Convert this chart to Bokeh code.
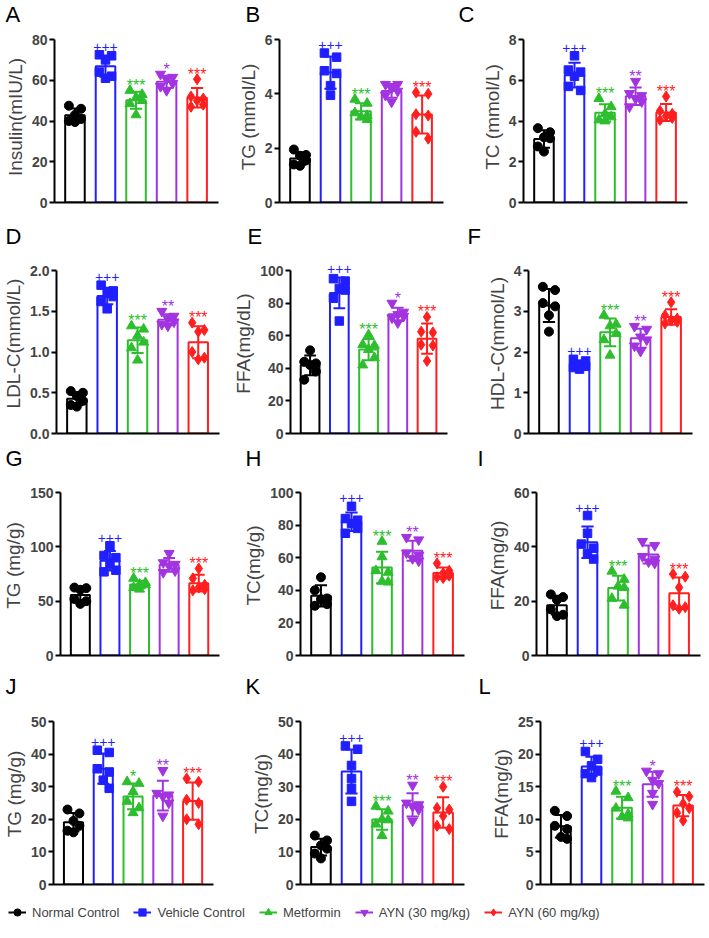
import numpy as np
from bokeh.plotting import figure
from bokeh.layouts import column, row
from bokeh.models import (Range1d, FixedTicker, NumeralTickFormatter, Label,
                          Legend, LegendItem, ColumnDataSource)
from bokeh.embed import file_html
from bokeh.resources import INLINE
from bokeh.core.properties import value

# ---------------------------------------------------------------- data
GROUPS = ["Normal Control", "Vehicle Control", "Metformin",
          "AYN (30 mg/kg)", "AYN (60 mg/kg)"]

# serum
insulin = [[47.5, 46.0, 43.0, 41.0, 39.5, 40.0],
           [72.5, 72.0, 70.0, 64.0, 62.0, 61.0],
           [55.0, 53.0, 51.5, 50.0, 48.5, 43.0],
           [63.0, 61.5, 60.5, 58.5, 57.0, 55.0],
           [60.5, 52.0, 51.0, 50.0, 48.0, 47.0]]
insulin_sig = ["", "+++", "***", "*", "***"]

serum_tg = [[1.95, 1.75, 1.72, 1.55, 1.40, 1.35],
            [5.50, 5.35, 4.85, 4.75, 4.30, 3.95],
            [3.80, 3.65, 3.30, 3.20, 3.15, 3.05],
            [4.35, 4.35, 4.20, 4.10, 3.95, 3.70],
            [4.05, 4.00, 3.25, 3.20, 2.60, 2.35]]
serum_tg_sig = ["", "+++", "***", "", "***"]

serum_tc = [[3.65, 3.45, 3.20, 3.15, 2.75, 2.50],
            [7.20, 6.50, 6.40, 6.20, 5.70, 5.50],
            [5.10, 4.70, 4.35, 4.20, 4.05, 4.00],
            [5.95, 5.35, 5.25, 5.10, 4.95, 4.70],
            [5.20, 4.50, 4.35, 4.25, 4.15, 4.05]]
serum_tc_sig = ["", "+++", "***", "**", "***"]

ldl_c = [[0.52, 0.50, 0.46, 0.40, 0.35, 0.33],
         [1.82, 1.75, 1.72, 1.68, 1.62, 1.53],
         [1.32, 1.28, 1.20, 1.12, 1.05, 0.90],
         [1.50, 1.44, 1.41, 1.37, 1.34, 1.32],
         [1.36, 1.27, 1.25, 1.00, 0.93, 0.91]]
ldl_c_sig = ["", "+++", "***", "**", "***"]

serum_ffa = [[51.0, 44.0, 43.0, 42.0, 38.0, 33.0],
             [95.0, 93.5, 89.0, 88.0, 83.0, 69.0],
             [60.5, 54.5, 54.0, 51.5, 46.5, 42.0],
             [80.0, 74.5, 73.0, 72.0, 71.0, 68.0],
             [71.5, 62.5, 62.0, 54.5, 54.0, 44.5]]
serum_ffa_sig = ["", "+++", "***", "*", "***"]

hdl_c = [[3.60, 3.52, 3.20, 3.12, 2.90, 2.50],
         [1.82, 1.78, 1.70, 1.65, 1.62, 1.58],
         [2.90, 2.68, 2.64, 2.45, 2.30, 1.92],
         [2.63, 2.56, 2.37, 2.30, 2.15, 2.02],
         [3.22, 2.90, 2.82, 2.78, 2.74, 2.70]]
hdl_c_sig = ["", "+++", "***", "**", "***"]

# liver
liver_tg = [[62.5, 62.0, 60.5, 52.0, 50.0, 47.5],
            [101.0, 92.0, 90.0, 85.0, 78.5, 77.0],
            [71.0, 67.0, 65.5, 65.0, 62.5, 61.0],
            [94.0, 85.5, 84.0, 82.5, 78.0, 76.5],
            [80.0, 71.0, 65.0, 62.5, 61.0, 60.0]]
liver_tg_sig = ["", "+++", "***", "", "***"]

liver_tc = [[48.0, 40.0, 35.0, 34.5, 31.5, 30.5],
            [91.5, 84.0, 83.0, 81.0, 78.0, 75.0],
            [70.0, 60.5, 52.0, 51.0, 45.5, 45.0],
            [72.5, 71.0, 63.0, 61.5, 59.5, 58.0],
            [56.5, 52.0, 50.5, 49.0, 48.0, 47.5]]
liver_tc_sig = ["", "+++", "***", "**", "***"]

liver_ffa = [[22.5, 21.5, 20.5, 17.0, 15.0, 14.5],
             [51.5, 45.0, 41.0, 39.5, 37.5, 35.5],
             [31.0, 28.0, 25.5, 25.0, 21.0, 18.5],
             [42.0, 40.5, 36.5, 35.5, 34.5, 34.0],
             [30.0, 29.0, 25.0, 18.5, 17.8, 17.2]]
liver_ffa_sig = ["", "+++", "***", "", "***"]

# feces
fecal_tg = [[23.0, 21.8, 19.5, 18.0, 16.5, 16.0],
            [41.2, 40.5, 35.5, 34.5, 32.0, 29.5],
            [31.5, 31.0, 28.5, 25.5, 23.5, 22.0],
            [35.0, 28.0, 27.5, 27.0, 25.0, 21.0],
            [32.5, 31.5, 26.0, 25.0, 20.0, 18.5]]
fecal_tg_sig = ["", "+++", "*", "**", "***"]

fecal_tc = [[15.0, 13.5, 12.0, 11.0, 9.5, 8.0],
            [42.5, 41.5, 36.5, 32.5, 29.5, 25.5],
            [24.0, 22.5, 20.0, 19.8, 18.5, 15.0],
            [30.5, 25.0, 24.5, 24.0, 23.0, 19.5],
            [30.0, 23.5, 23.0, 21.0, 18.0, 17.0]]
fecal_tc_sig = ["", "+++", "***", "**", "***"]

fecal_ffa = [[11.3, 10.5, 9.0, 8.5, 7.3, 7.0],
             [20.4, 19.2, 18.2, 17.4, 17.0, 16.4],
             [14.3, 13.3, 11.7, 10.8, 10.4, 10.2],
             [17.4, 17.0, 16.0, 15.5, 14.0, 12.3],
             [14.2, 13.5, 12.4, 11.7, 11.0, 9.8]]
fecal_ffa_sig = ["", "+++", "***", "*", "***"]

# letter, values, marks, axis max, ticks, tick format, axis title
PANELS = [
    ("A", insulin, insulin_sig, 80, [0, 20, 40, 60, 80], "0", "Insulin(mIU/L)"),
    ("B", serum_tg, serum_tg_sig, 6, [0, 2, 4, 6], "0", "TG (mmol/L)"),
    ("C", serum_tc, serum_tc_sig, 8, [0, 2, 4, 6, 8], "0", "TC (mmol/L)"),
    ("D", ldl_c, ldl_c_sig, 2.0, [0, 0.5, 1.0, 1.5, 2.0], "0.0", "LDL-C(mmol/L)"),
    ("E", serum_ffa, serum_ffa_sig, 100, [0, 20, 40, 60, 80, 100], "0", "FFA(mg/dL)"),
    ("F", hdl_c, hdl_c_sig, 4, [0, 1, 2, 3, 4], "0", "HDL-C(mmol/L)"),
    ("G", liver_tg, liver_tg_sig, 150, [0, 50, 100, 150], "0", "TG (mg/g)"),
    ("H", liver_tc, liver_tc_sig, 100, [0, 20, 40, 60, 80, 100], "0", "TC(mg/g)"),
    ("I", liver_ffa, liver_ffa_sig, 60, [0, 20, 40, 60], "0", "FFA(mg/g)"),
    ("J", fecal_tg, fecal_tg_sig, 50, [0, 10, 20, 30, 40, 50], "0", "TG (mg/g)"),
    ("K", fecal_tc, fecal_tc_sig, 50, [0, 10, 20, 30, 40, 50], "0", "TC(mg/g)"),
    ("L", fecal_ffa, fecal_ffa_sig, 25, [0, 5, 10, 15, 20, 25], "0", "FFA(mg/g)"),
]

# ---------------------------------------------------------------- style
COLORS = ["#000000", "#1f1fff", "#2dbe2d", "#a134e0", "#ff1f1f"]
MARKERS = ["circle", "square", "triangle", "inverted_triangle", "diamond"]
MSIZE = [9, 8.5, 10, 10, 11]
FONT = "Liberation Sans"
FRAME_W, AXIS_H = 164, 163
PAGE_W = 709
# sideways slots used when neighbouring points would overlap
SLOTS = [-0.2, 0.2, 0.0, 0.2, -0.2, 0.0]

# per row: letter strip height, letter centre (from strip top),
# headroom above the axis top, bottom border,
# per panel: (figure width, left border, letter x)
ROWS = [
    (30, 14, 8, 10, [(230, 54, 5), (225, 49, 15), (254, 68, 3)]),
    (40, 24, 17, 9, [(230, 55, 5), (230, 53, 17), (249, 68, 7)]),
    (32, 16, 17, 9, [(230, 55, 5), (240, 70, 15), (239, 66, 7)]),
    (38, 22, 18, 11, [(230, 49, 5), (240, 70, 15), (239, 70, 8)]),
]


def spread(values, px_per_unit, min_gap=9.0):
    """Column-scatter offsets: runs of points that would overlap are
    zig-zagged sideways, isolated points stay on the centre line."""
    order = np.argsort(values)[::-1]
    ys = np.asarray(values, dtype=float)[order]
    offs = np.zeros(len(ys))
    start = 0
    for i in range(1, len(ys) + 1):
        if i == len(ys) or (ys[i - 1] - ys[i]) * px_per_unit >= min_gap:
            n = i - start
            if n > 1:
                offs[start:i] = SLOTS[:n]
            start = i
    return ys, offs


def make_panel(spec, fig_w, left, headroom, bottom):
    letter, vals, sig, ymax, ticks, fmt, ylabel = spec
    frame_h = AXIS_H + headroom
    p = figure(width=fig_w, height=1 + frame_h + bottom, title=None,
               min_border_left=left, min_border_right=fig_w - left - FRAME_W,
               min_border_top=1, min_border_bottom=bottom,
               x_range=Range1d(0.33, 5.7),
               y_range=Range1d(0, ymax * frame_h / AXIS_H),
               output_backend="svg", toolbar_location=None)
    p.grid.visible = False
    p.outline_line_color = None

    xa = p.xaxis[0]
    xa.ticker = FixedTicker(ticks=[])
    xa.axis_line_width = 2
    xa.axis_line_color = "black"
    xa.major_tick_out = 0
    xa.major_tick_in = 0
    xa.major_label_standoff = 0
    xa.minor_tick_line_color = None

    ya = p.yaxis[0]
    ya.bounds = (0, ymax)
    ya.ticker = FixedTicker(ticks=ticks)
    ya.formatter = NumeralTickFormatter(format=fmt)
    ya.axis_line_width = 2
    ya.axis_line_color = "black"
    ya.major_tick_line_width = 2
    ya.major_tick_in = 0
    ya.major_tick_out = 5
    ya.minor_tick_line_color = None
    ya.major_label_standoff = 2
    ya.major_label_text_font = FONT
    ya.major_label_text_font_style = "bold"
    ya.major_label_text_font_size = "14px"
    ya.axis_label = ylabel
    ya.axis_label_text_font = FONT
    ya.axis_label_text_font_style = "normal"
    ya.axis_label_text_font_size = "19px"
    ya.axis_label_standoff = 3

    cats = np.arange(1, len(vals) + 1, dtype=float)
    means = np.array([np.mean(v) for v in vals])
    sds = np.array([np.std(v, ddof=1) for v in vals])

    # bars
    p.vbar(x=cats, top=means, width=0.64, fill_color="white",
           line_color=COLORS, line_width=2)

    # individual animals
    for gi, v in enumerate(vals):
        ys, offs = spread(v, AXIS_H / ymax)
        p.scatter(x=cats[gi] + offs, y=ys, marker=MARKERS[gi],
                  size=MSIZE[gi], fill_color=COLORS[gi], line_color=COLORS[gi])

    # mean +/- SD
    p.segment(x0=cats, x1=cats, y0=means - sds, y1=means + sds,
              line_color=COLORS, line_width=2)
    p.segment(x0=cats - 0.2, x1=cats + 0.2, y0=means + sds, y1=means + sds,
              line_color=COLORS, line_width=2)
    p.segment(x0=cats - 0.2, x1=cats + 0.2, y0=means - sds, y1=means - sds,
              line_color=COLORS, line_width=2)

    # significance marks
    tx, ty, tt, tc, toff, tsz = [], [], [], [], [], []
    for gi, s in enumerate(sig):
        if not s:
            continue
        plus = s.startswith("+")
        tx.append(cats[gi])
        ty.append(max(max(vals[gi]), means[gi] + sds[gi]))
        tt.append(s)
        tc.append(COLORS[gi])
        toff.append(-8 if plus else -5)
        tsz.append("14px" if plus else "16px")
    src = ColumnDataSource(dict(x=tx, y=ty, text=tt, color=tc, off=toff, sz=tsz))
    p.text(x="x", y="y", text="text", text_color="color", y_offset="off",
           text_font_size="sz", source=src, text_align="center",
           text_baseline="alphabetic", text_font=value(FONT))
    return p


def letter_strip(strip_h, centre, letters, xs):
    s = figure(width=PAGE_W, height=strip_h, title=None, min_border=0,
               x_axis_location=None, y_axis_location=None,
               x_range=Range1d(0, PAGE_W), y_range=Range1d(0, strip_h),
               output_backend="svg", toolbar_location=None)
    s.grid.visible = False
    s.outline_line_color = None
    for t, x in zip(letters, xs):
        s.add_layout(Label(x=x, y=strip_h - centre, text=t,
                           text_font=FONT, text_font_size="22px",
                           text_color="black", text_align="left",
                           text_baseline="middle"))
    return s


blocks = []
k = 0
for strip_h, centre, headroom, bottom, cells in ROWS:
    figs, letters, lxs = [], [], []
    x0 = 0
    for fig_w, left, lx in cells:
        figs.append(make_panel(PANELS[k], fig_w, left, headroom, bottom))
        letters.append(PANELS[k][0])
        lxs.append(x0 + lx)
        x0 += fig_w
        k += 1
    blocks.append(letter_strip(strip_h, centre, letters, lxs))
    blocks.append(row(*figs))

# shared legend
lf = figure(width=PAGE_W, height=43, title=None, min_border=0,
            x_axis_location=None, y_axis_location=None,
            x_range=Range1d(0, 1), y_range=Range1d(0, 1),
            output_backend="svg", toolbar_location=None)
lf.grid.visible = False
lf.outline_line_color = None
items = []
blank = dict(x=np.array([np.nan]), y=np.array([np.nan]))
for name, c, m, s in zip(GROUPS, COLORS, MARKERS, MSIZE):
    lr = lf.line(x="x", y="y", source=ColumnDataSource(blank),
                 line_color=c, line_width=2)
    sr = lf.scatter(x="x", y="y", source=ColumnDataSource(blank), marker=m,
                    size=s, fill_color=c, line_color=c)
    items.append(LegendItem(label=name, renderers=[lr, sr]))
leg = Legend(items=items, orientation="horizontal", location=(8, 16),
             glyph_width=18, glyph_height=20, label_standoff=6, spacing=14,
             padding=0, margin=0, border_line_alpha=0,
             background_fill_alpha=0, label_text_font=FONT,
             label_text_font_size="13px")
lf.add_layout(leg)

layout = column(*blocks, lf)
open("out.html", "w").write(file_html(layout, INLINE))
